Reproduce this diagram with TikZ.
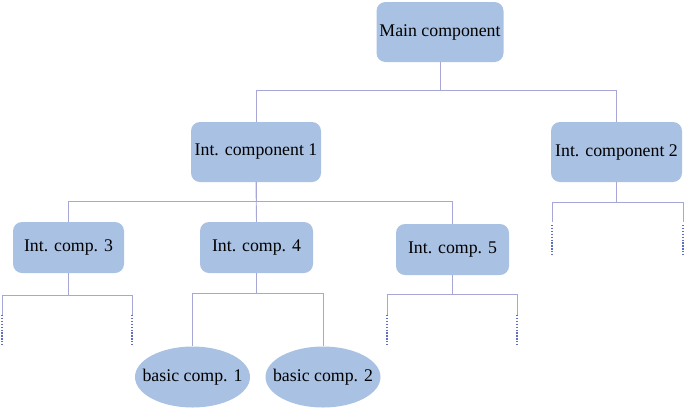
\documentclass[tikz,border=0pt]{standalone}
\usepackage{fontspec}
\setmainfont{Liberation Serif}
\usetikzlibrary{shapes.geometric}
\definecolor{boxblue}{HTML}{A9C1E3}
\definecolor{linelilac}{HTML}{A7A7D6}
\definecolor{dotblue}{HTML}{5E6EC2}
\begin{document}
\begin{tikzpicture}[x=1pt,y=-1pt,
	comp/.style={fill=boxblue, rounded corners=9pt, inner sep=0pt, font=\fontsize{17.8}{21}\selectfont},
	basic/.style={ellipse, fill=boxblue, inner xsep=-12pt, inner ysep=0pt, minimum width=115pt, minimum height=61pt, font=\fontsize{17.8}{21}\selectfont},
	link/.style={draw=linelilac, line width=0.9pt},
	stub/.style={draw=dotblue, line width=1.8pt, dash pattern=on 1.3pt off 1.6pt}]
	\useasboundingbox (0,0) rectangle (685,408);
	% boxes
	\node[comp, minimum width=127pt, minimum height=60pt] (main) at (440,32) {Main component};
	\node[comp, minimum width=130pt, minimum height=60pt] (ic1) at (256,152) {Int. component 1};
	\node[comp, minimum width=131pt, minimum height=60pt] (ic2) at (616.5,152) {Int. component 2};
	\node[comp, minimum width=111pt, minimum height=51pt] (ic3) at (68.5,247.5) {Int. comp. 3};
	\node[comp, minimum width=113pt, minimum height=51pt] (ic4) at (256.5,247.5) {Int. comp. 4};
	\node[comp, minimum width=113pt, minimum height=51pt] (ic5) at (452.5,249.5) {Int. comp. 5};
	\node[basic] (bc1) at (192.5,377) {basic comp. 1};
	\node[basic] (bc2) at (323,377) {basic comp. 2};
	% open ends
	\coordinate (ic2l) at (552,222);
	\coordinate (ic2r) at (683,222);
	\coordinate (ic3l) at (2,315);
	\coordinate (ic3r) at (132,315);
	\coordinate (ic5l) at (387,315);
	\coordinate (ic5r) at (517,315);
	% connectors
	\draw[link] (main.south) -- ++(0,29);
	\draw[link] (ic1.north) -- ++(0,-31) -| (ic2.north);
	\draw[link] (ic1.south) -- ++(0,19) -| (ic3.north);
	\draw[link] (ic1.south) ++(0,19) -| (ic5.north);
	\draw[link] (ic1.south) -- (ic4.north);
	\draw[link] (ic2.south) -- ++(0,20) -| (ic2l);
	\draw[link] (ic2.south) ++(0,20) -| (ic2r);
	\draw[link] (ic3.south) -- ++(0,22) -| (ic3l);
	\draw[link] (ic3.south) ++(0,22) -| (ic3r);
	\draw[link] (ic4.south) -- ++(0,20) -| (bc1.north);
	\draw[link] (ic4.south) ++(0,20) -| (bc2.north);
	\draw[link] (ic5.south) -- ++(0,19) -| (ic5l);
	\draw[link] (ic5.south) ++(0,19) -| (ic5r);
	% dotted stubs
	\draw[stub] (ic2l) ++(0,3) -- ++(0,31);
	\draw[stub] (ic2r) ++(0,3) -- ++(0,31);
	\draw[stub] (ic3l) -- ++(0,31);
	\draw[stub] (ic3r) -- ++(0,31);
	\draw[stub] (ic5l) -- ++(0,31);
	\draw[stub] (ic5r) -- ++(0,31);
\end{tikzpicture}
\end{document}
